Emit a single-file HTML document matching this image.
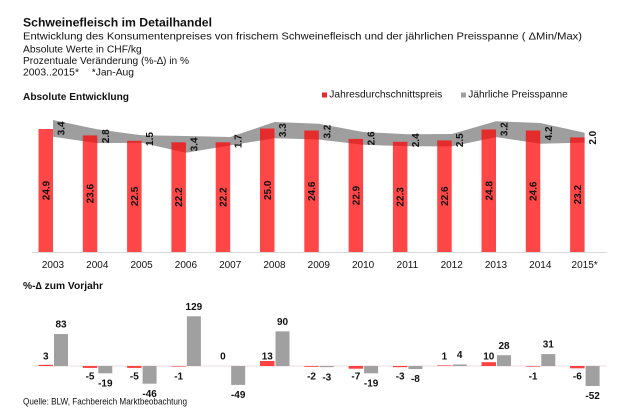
<!DOCTYPE html>
<html>
<head>
<meta charset="utf-8">
<style>
  html,body{margin:0;padding:0;background:#fff;}
  svg{display:block;}
  text{font-family:"Liberation Sans", Arial, sans-serif; fill:#111;}
</style>
</head>
<body>
<svg width="620" height="420" viewBox="0 0 620 420" xmlns="http://www.w3.org/2000/svg">
  <rect width="620" height="420" fill="#fff"/>

  <!-- Header -->
  <text x="23" y="26.5" font-size="12" font-weight="bold" textLength="189" lengthAdjust="spacingAndGlyphs">Schweinefleisch im Detailhandel</text>
  <text x="23" y="39.3" font-size="10.5" textLength="559" lengthAdjust="spacingAndGlyphs">Entwicklung des Konsumentenpreises von frischem Schweinefleisch und der jährlichen Preisspanne ( ΔMin/Max)</text>
  <text x="23" y="52.3" font-size="10.3" textLength="118.7" lengthAdjust="spacingAndGlyphs">Absolute Werte in CHF/kg</text>
  <text x="23" y="64" font-size="10.3" textLength="166" lengthAdjust="spacingAndGlyphs">Prozentuale Veränderung (%-∆) in %</text>
  <text x="23" y="75.5" font-size="10.3" textLength="56" lengthAdjust="spacingAndGlyphs">2003..2015*</text>
  <text x="91.7" y="75.5" font-size="10.3" textLength="42.3" lengthAdjust="spacingAndGlyphs">*Jan-Aug</text>

  <text x="23" y="100" font-size="10" font-weight="bold" textLength="106" lengthAdjust="spacingAndGlyphs">Absolute Entwicklung</text>

  <!-- Legend -->
  <rect x="322" y="92.5" width="5" height="5" fill="#e8262c"/>
  <text x="329.3" y="97.7" font-size="10" textLength="113" lengthAdjust="spacingAndGlyphs">Jahresdurchschnittspreis</text>
  <rect x="461" y="92.5" width="5" height="5" fill="#a0a0a0"/>
  <text x="468.3" y="97.7" font-size="10" textLength="99.4" lengthAdjust="spacingAndGlyphs">Jährliche Preisspanne</text>

  <!-- Top chart: band -->
  <polygon fill="#9e9e9e" points="53,120 97.3,129.3 141.6,135.3 185.9,136 230.2,137 274.5,122 318.8,123.7 363.1,132 407.4,134.3 451.7,134 496,121.3 540.3,123 584.6,132.7 584.6,142.6 540.3,143.7 496,137.1 451.7,146.4 407.4,146.2 363.1,144.8 318.8,139.5 274.5,138.3 230.2,145.4 185.9,152.8 141.6,142.7 97.3,143.1 53,136.8"/>

  <!-- Top chart: bars -->
  <g fill="rgba(255,0,0,0.72)">
    <rect x="38.5" y="129.0" width="14.5" height="123.0"/>
    <rect x="82.8" y="135.4" width="14.5" height="116.6"/>
    <rect x="127.1" y="140.8" width="14.5" height="111.2"/>
    <rect x="171.4" y="142.3" width="14.5" height="109.7"/>
    <rect x="215.7" y="142.3" width="14.5" height="109.7"/>
    <rect x="260.0" y="128.5" width="14.5" height="123.5"/>
    <rect x="304.3" y="130.5" width="14.5" height="121.5"/>
    <rect x="348.6" y="138.9" width="14.5" height="113.1"/>
    <rect x="392.9" y="141.8" width="14.5" height="110.2"/>
    <rect x="437.2" y="140.4" width="14.5" height="111.6"/>
    <rect x="481.5" y="129.5" width="14.5" height="122.5"/>
    <rect x="525.8" y="130.5" width="14.5" height="121.5"/>
    <rect x="570.1" y="137.4" width="14.5" height="114.6"/>
  </g>

  <!-- axis -->
  <line x1="32" y1="252.5" x2="607" y2="252.5" stroke="#d9d9d9" stroke-width="1"/>

  <!-- bar value labels -->
  <g font-size="10" font-weight="bold" text-anchor="middle">
    <text transform="translate(45.75,190.5) rotate(-90)" dy="0.35em">24.9</text>
    <text transform="translate(90.05,193.7) rotate(-90)" dy="0.35em">23.6</text>
    <text transform="translate(134.35,196.4) rotate(-90)" dy="0.35em">22.5</text>
    <text transform="translate(178.65,197.2) rotate(-90)" dy="0.35em">22.2</text>
    <text transform="translate(222.95,197.2) rotate(-90)" dy="0.35em">22.2</text>
    <text transform="translate(267.25,190.3) rotate(-90)" dy="0.35em">25.0</text>
    <text transform="translate(311.55,191.3) rotate(-90)" dy="0.35em">24.6</text>
    <text transform="translate(355.85,195.5) rotate(-90)" dy="0.35em">22.9</text>
    <text transform="translate(400.15,196.9) rotate(-90)" dy="0.35em">22.3</text>
    <text transform="translate(444.45,196.2) rotate(-90)" dy="0.35em">22.6</text>
    <text transform="translate(488.75,190.8) rotate(-90)" dy="0.35em">24.8</text>
    <text transform="translate(533.05,191.3) rotate(-90)" dy="0.35em">24.6</text>
    <text transform="translate(577.35,194.7) rotate(-90)" dy="0.35em">23.2</text>
  </g>

  <!-- band labels -->
  <g font-size="10" font-weight="bold" text-anchor="middle">
    <text transform="translate(61,128.4) rotate(-90)" dy="0.35em">3.4</text>
    <text transform="translate(105.3,136.2) rotate(-90)" dy="0.35em">2.8</text>
    <text transform="translate(149.6,139) rotate(-90)" dy="0.35em">1.5</text>
    <text transform="translate(193.9,144.4) rotate(-90)" dy="0.35em">3.4</text>
    <text transform="translate(238.2,141.2) rotate(-90)" dy="0.35em">1.7</text>
    <text transform="translate(282.5,130.2) rotate(-90)" dy="0.35em">3.3</text>
    <text transform="translate(326.8,131.6) rotate(-90)" dy="0.35em">3.2</text>
    <text transform="translate(371.1,138.4) rotate(-90)" dy="0.35em">2.6</text>
    <text transform="translate(415.4,140.3) rotate(-90)" dy="0.35em">2.4</text>
    <text transform="translate(459.7,140.2) rotate(-90)" dy="0.35em">2.5</text>
    <text transform="translate(504,129.2) rotate(-90)" dy="0.35em">3.2</text>
    <text transform="translate(548.3,133.4) rotate(-90)" dy="0.35em">4.2</text>
    <text transform="translate(592.6,137.7) rotate(-90)" dy="0.35em">2.0</text>
  </g>

  <!-- year labels -->
  <g font-size="10" text-anchor="middle">
    <text x="53" y="268">2003</text>
    <text x="97.3" y="268">2004</text>
    <text x="141.6" y="268">2005</text>
    <text x="185.9" y="268">2006</text>
    <text x="230.2" y="268">2007</text>
    <text x="274.5" y="268">2008</text>
    <text x="318.8" y="268">2009</text>
    <text x="363.1" y="268">2010</text>
    <text x="407.4" y="268">2011</text>
    <text x="451.7" y="268">2012</text>
    <text x="496" y="268">2013</text>
    <text x="540.3" y="268">2014</text>
    <text x="584.6" y="268">2015*</text>
  </g>

  <!-- Lower chart -->
  <text x="23" y="289" font-size="10" font-weight="bold" textLength="80" lengthAdjust="spacingAndGlyphs">%-∆ zum Vorjahr</text>

  <line x1="32" y1="366" x2="607" y2="366" stroke="#eddcdc" stroke-width="1"/>

  <!-- red bars -->
  <g fill="rgba(255,20,20,0.8)">
    <rect x="38.5" y="364.84" width="14.5" height="1.16"/>
    <rect x="82.8" y="366" width="14.5" height="1.93"/>
    <rect x="127.1" y="366" width="14.5" height="1.93"/>
    <rect x="171.4" y="366" width="14.5" height="0.6"/>
    <rect x="260.0" y="361" width="14.5" height="5"/>
    <rect x="304.3" y="366" width="14.5" height="0.8"/>
    <rect x="348.6" y="366" width="14.5" height="2.7"/>
    <rect x="392.9" y="366" width="14.5" height="1.16"/>
    <rect x="437.2" y="365.4" width="14.5" height="0.6"/>
    <rect x="481.5" y="362.15" width="14.5" height="3.85"/>
    <rect x="525.8" y="366" width="14.5" height="0.6"/>
    <rect x="570.1" y="366" width="14.5" height="2.31"/>
  </g>

  <!-- grey bars -->
  <g fill="#a0a0a0">
    <rect x="54" y="334.04" width="14" height="31.96"/>
    <rect x="98.3" y="366" width="14" height="7.3"/>
    <rect x="142.6" y="366" width="14" height="17.7"/>
    <rect x="186.9" y="316.3" width="14" height="49.7"/>
    <rect x="231.2" y="366" width="14" height="18.9"/>
    <rect x="275.5" y="331.35" width="14" height="34.65"/>
    <rect x="319.8" y="366" width="14" height="1.16"/>
    <rect x="364.1" y="366" width="14" height="7.3"/>
    <rect x="408.4" y="366" width="14" height="3.08"/>
    <rect x="452.7" y="364.46" width="14" height="1.54"/>
    <rect x="497" y="355.22" width="14" height="10.78"/>
    <rect x="541.3" y="354.06" width="14" height="11.94"/>
    <rect x="585.6" y="366" width="14" height="20"/>
  </g>

  <!-- red labels -->
  <g font-size="10" font-weight="bold" text-anchor="middle">
    <text x="45.75" y="359.3">3</text>
    <text x="90.05" y="379.6">-5</text>
    <text x="134.35" y="379.6">-5</text>
    <text x="178.65" y="379.6">-1</text>
    <text x="222.95" y="359.3">0</text>
    <text x="267.25" y="359.3">13</text>
    <text x="311.55" y="379.6">-2</text>
    <text x="355.85" y="379.6">-7</text>
    <text x="400.15" y="379.6">-3</text>
    <text x="444.45" y="359.3">1</text>
    <text x="488.75" y="359.3">10</text>
    <text x="533.05" y="379.6">-1</text>
    <text x="577.35" y="379.6">-6</text>
  </g>

  <!-- grey labels -->
  <g font-size="10" font-weight="bold" text-anchor="middle">
    <text x="61" y="327.6">83</text>
    <text x="105.3" y="386.4">-19</text>
    <text x="149.6" y="396.8">-46</text>
    <text x="193.9" y="309.9">129</text>
    <text x="238.2" y="398">-49</text>
    <text x="282.5" y="325">90</text>
    <text x="326.8" y="380.3">-3</text>
    <text x="371.1" y="386.4">-19</text>
    <text x="415.4" y="382.2">-8</text>
    <text x="459.7" y="358.1">4</text>
    <text x="504" y="348.8">28</text>
    <text x="548.3" y="347.7">31</text>
    <text x="592.6" y="399.1">-52</text>
  </g>

  <text x="23" y="404.3" font-size="9" textLength="164" lengthAdjust="spacingAndGlyphs">Quelle: BLW, Fachbereich Marktbeobachtung</text>
</svg>
</body>
</html>
